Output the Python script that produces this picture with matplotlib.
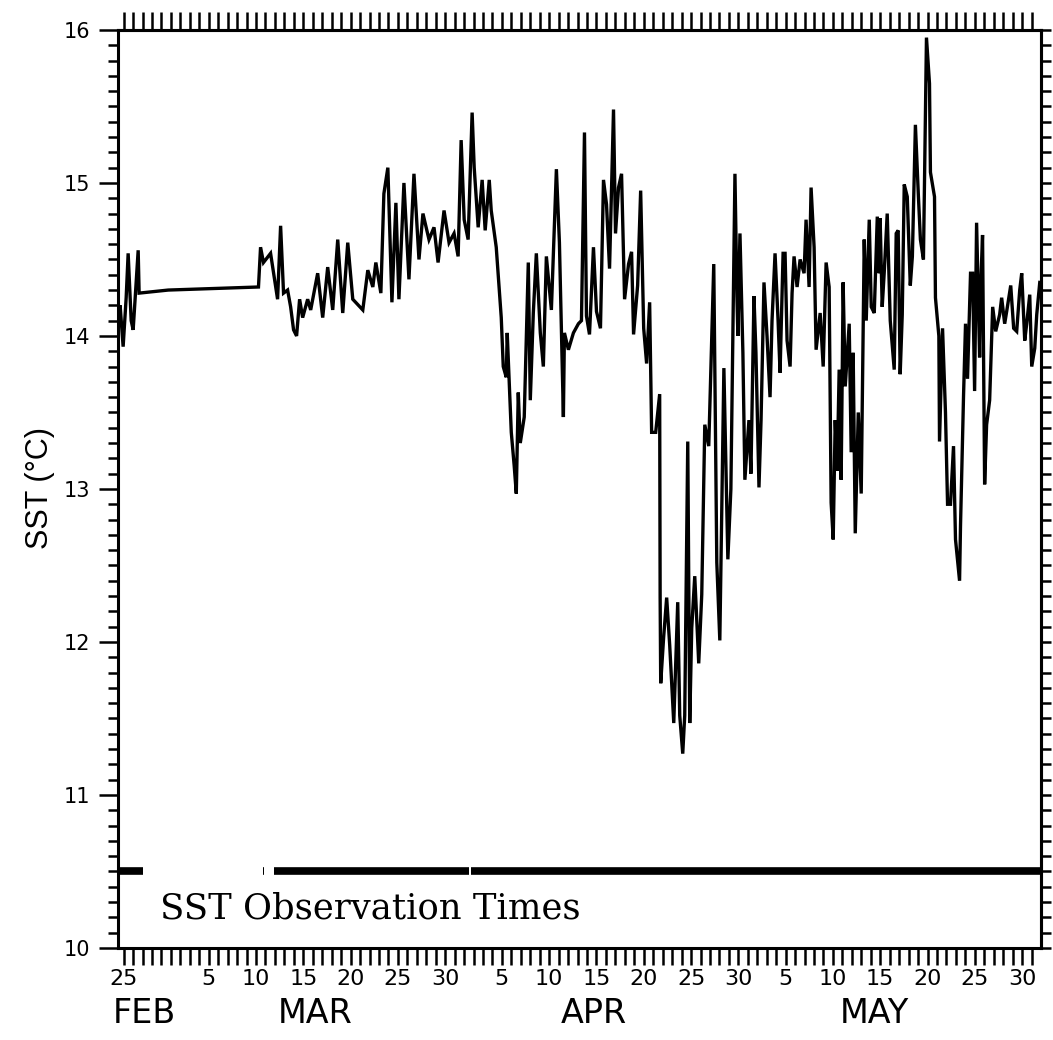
import numpy as np
import matplotlib
matplotlib.use("Agg")
import matplotlib.pyplot as plt

# day 0 = Feb 25 (1988, leap year), values in deg C
feb = [(-0.60, 14.10), (-0.37, 14.20), (-0.05, 13.93), (0.27, 14.25), (0.48, 14.54),
       (0.80, 14.10), (1.01, 14.04), (1.33, 14.35), (1.54, 14.56), (1.64, 14.28),
       (4.72, 14.30), (14.26, 14.32)]

mar = [(14.48, 14.58), (14.79, 14.48), (15.54, 14.54), (16.28, 14.24), (16.60, 14.72),
       (16.91, 14.28), (17.34, 14.30), (17.66, 14.19), (17.97, 14.04), (18.29, 14.00),
       (18.61, 14.24), (18.93, 14.12), (19.46, 14.24), (19.78, 14.17), (20.52, 14.41),
       (21.05, 14.12), (21.58, 14.45), (22.11, 14.17), (22.64, 14.63), (23.17, 14.15),
       (23.70, 14.61), (24.23, 14.24), (25.29, 14.17), (25.82, 14.43), (26.35, 14.32),
       (26.67, 14.48), (27.20, 14.28), (27.52, 14.93), (27.94, 15.10), (28.37, 14.22),
       (28.79, 14.87), (29.11, 14.24), (29.64, 15.00), (30.17, 14.37), (30.70, 15.06),
       (31.23, 14.50), (31.65, 14.80), (32.29, 14.63), (32.82, 14.71), (33.25, 14.48),
       (33.88, 14.82), (34.41, 14.61), (34.94, 14.67), (35.37, 14.52), (35.69, 15.28)]

apr = [(36.01, 14.76), (36.43, 14.63), (36.85, 15.46), (37.07, 15.10), (37.49, 14.71),
       (37.91, 15.02), (38.23, 14.69), (38.66, 15.02), (38.87, 14.82), (39.40, 14.58),
       (39.93, 14.12), (40.14, 13.80), (40.46, 13.73), (40.56, 14.02), (40.99, 13.37),
       (41.30, 13.15), (41.52, 12.97), (41.73, 13.63), (41.94, 13.30), (42.36, 13.47),
       (42.79, 14.48), (43.00, 13.58), (43.32, 14.15), (43.64, 14.54), (44.06, 14.02),
       (44.38, 13.80), (44.70, 14.52), (45.23, 14.17), (45.76, 15.09), (46.08, 14.61),
       (46.50, 13.47), (46.61, 14.02), (47.03, 13.91), (47.56, 14.02), (48.09, 14.08),
       (48.41, 14.10), (48.73, 15.33), (48.94, 14.13), (49.26, 14.01), (49.68, 14.58),
       (50.00, 14.16), (50.42, 14.05), (50.74, 15.02), (51.06, 14.86), (51.38, 14.44),
       (51.80, 15.48), (52.01, 14.67), (52.33, 14.97), (52.65, 15.06), (52.97, 14.24),
       (53.39, 14.47), (53.71, 14.55), (53.92, 14.01), (54.35, 14.33), (54.67, 14.95),
       (54.99, 14.05), (55.30, 13.82), (55.62, 14.22), (55.83, 13.37), (56.26, 13.37),
       (56.68, 13.62), (56.73, 12.29), (56.79, 11.73), (57.10, 12.03), (57.42, 12.29),
       (57.74, 11.98), (58.17, 11.47), (58.59, 12.26), (58.80, 11.52), (59.12, 11.27),
       (59.33, 11.52), (59.65, 13.31), (59.86, 11.47), (60.07, 12.09), (60.39, 12.43),
       (60.81, 11.86), (61.13, 12.31), (61.45, 13.42), (61.87, 13.28), (62.40, 14.47),
       (62.72, 12.52), (63.04, 12.01), (63.47, 13.79), (63.89, 12.54), (64.21, 13.00),
       (64.64, 15.06)]

may = [(64.85, 14.26), (64.95, 14.00), (65.17, 14.67), (65.48, 13.89), (65.69, 13.06),
       (66.12, 13.45), (66.33, 13.10), (66.65, 14.26), (66.86, 13.89), (67.18, 13.01),
       (67.40, 13.45), (67.71, 14.35), (68.03, 14.00), (68.35, 13.60), (68.56, 14.10),
       (68.88, 14.54), (69.20, 14.10), (69.41, 13.76), (69.73, 14.54), (69.94, 14.54),
       (70.15, 13.97), (70.47, 13.80), (70.68, 14.28), (70.89, 14.52), (71.21, 14.32),
       (71.53, 14.50), (71.95, 14.41), (72.16, 14.76), (72.48, 14.32), (72.69, 14.97),
       (73.01, 14.58), (73.22, 13.91), (73.65, 14.15), (73.97, 13.80), (74.28, 14.48),
       (74.60, 14.32), (74.81, 12.91), (75.03, 12.67), (75.24, 13.45), (75.45, 13.12),
       (75.66, 13.78), (75.87, 13.06), (76.08, 14.35), (76.30, 13.67), (76.72, 14.08),
       (76.93, 13.24), (77.14, 13.89), (77.36, 12.71), (77.68, 13.50), (77.99, 12.97),
       (78.31, 14.63), (78.52, 14.10), (78.84, 14.76), (79.05, 14.19), (79.37, 14.15),
       (79.69, 14.78), (79.90, 14.41), (79.99, 14.77), (80.21, 14.19), (80.42, 14.41),
       (80.74, 14.80), (81.06, 14.10), (81.48, 13.78), (81.69, 14.67), (81.90, 14.69),
       (82.11, 13.75), (82.33, 14.14), (82.54, 14.99), (82.86, 14.91), (83.18, 14.33),
       (83.40, 14.52), (83.72, 15.38), (84.04, 14.91), (84.25, 14.63), (84.57, 14.50),
       (84.89, 15.95), (85.21, 15.65), (85.31, 15.07), (85.74, 14.91), (85.84, 14.25),
       (86.20, 14.00), (86.27, 13.31), (86.59, 14.05), (86.90, 13.50), (87.12, 12.90),
       (87.43, 12.90), (87.75, 13.28), (87.96, 12.67), (88.39, 12.40), (88.49, 12.76),
       (88.81, 13.61), (89.02, 14.08), (89.23, 13.72), (89.55, 14.41), (89.77, 14.41),
       (89.98, 13.64), (90.19, 14.74), (90.51, 13.86), (90.61, 14.30), (90.82, 14.66),
       (91.04, 13.03), (91.25, 13.42), (91.57, 13.58), (91.89, 14.19), (92.21, 14.03),
       (92.63, 14.14), (92.84, 14.25), (93.16, 14.08), (93.37, 14.16), (93.80, 14.33),
       (94.11, 14.05), (94.43, 14.03), (94.75, 14.30), (94.96, 14.41), (95.28, 13.97),
       (95.49, 14.08), (95.81, 14.27), (96.02, 13.80), (96.34, 13.92), (96.55, 14.14),
       (96.87, 14.35)]

# observation time coverage (start, end) in days
obs_start = [-0.6, 14.75, 15.9, 36.7]
obs_end = [2.0, 14.85, 36.5, 97.0]

tick_days = [0, 9, 14, 19, 24, 29, 34, 40, 45, 50, 55, 60, 65, 70, 75, 80, 85, 90, 95]
tick_labels = ['25', '5', '10', '15', '20', '25', '30', '5', '10', '15', '20', '25',
               '30', '5', '10', '15', '20', '25', '30']
months = ['FEB', 'MAR', 'APR', 'MAY']
month_pos = [2.2, 20.3, 49.7, 79.4]

data = np.array(feb + mar + apr + may)
days, sst = data[:, 0], data[:, 1]

fig = plt.figure(figsize=(10.53, 10.40), dpi=100)
ax = fig.add_axes([0.112, 0.0885, 0.8766, 0.8827])

ax.plot(days, sst, color='black', lw=2.4, solid_joinstyle='miter')
for s, e in zip(obs_start, obs_end):
    ax.plot([s, e], [10.5, 10.5], color='black', lw=5.5, solid_capstyle='butt')

ax.text(3.84, 10.26, 'SST Observation Times', fontsize=25.5, family='DejaVu Serif',
        va='center', ha='left')

ax.set_xlim(-0.6, 97.0)
ax.set_ylim(10, 16)

ax.set_xticks(tick_days)
ax.set_xticklabels(tick_labels, fontsize=16)
ax.set_xticks(np.arange(0, 97), minor=True)
ax.tick_params(axis='x', which='both', direction='out', length=12, width=1.8, pad=3)

ax.set_yticks(range(10, 17))
ax.set_yticklabels([str(v) for v in range(10, 17)], fontsize=15)
ax.set_yticks(np.arange(10, 16.01, 0.1), minor=True)
ax.tick_params(axis='y', which='major', direction='out', length=14, width=1.8, pad=6)
ax.tick_params(axis='y', which='minor', direction='out', length=7, width=1.8)

secx = ax.secondary_xaxis('top')
secx.set_xticks(np.arange(0, 97))
secx.set_xticklabels([])
secx.tick_params(direction='out', length=13, width=1.8)

secy = ax.secondary_yaxis('right')
secy.set_yticks(np.arange(10, 16.01, 0.1))
secy.set_yticklabels([])
secy.tick_params(direction='out', length=7, width=1.8)

for sp in list(ax.spines.values()) + list(secx.spines.values()) + list(secy.spines.values()):
    sp.set_linewidth(2.2)

for m, p in zip(months, month_pos):
    ax.text(p, -0.071, m, transform=ax.get_xaxis_transform(), fontsize=24,
            ha='center', va='center')

fig.text(0.038, 0.531, 'SST (°C)', rotation=90, fontsize=22, family='Liberation Sans',
         ha='center', va='center')

fig.savefig('out.png', dpi=100)
